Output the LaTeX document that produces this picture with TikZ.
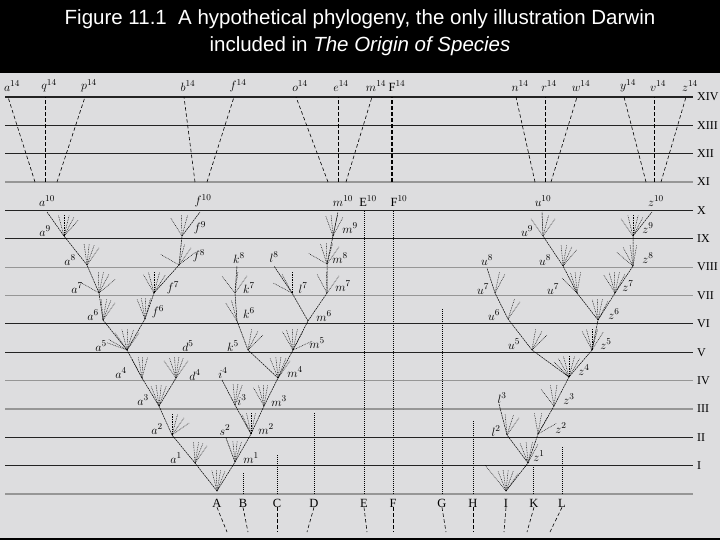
\documentclass[tikz,border=0pt]{standalone}
\usepackage{fontspec}
\setmainfont{Liberation Serif}
\newfontfamily\headfont{Liberation Sans}
\definecolor{paper}{RGB}{221,221,223}
\definecolor{dark}{RGB}{35,35,35}
\definecolor{pale}{RGB}{150,150,150}
\newcommand{\twigs}[2]{\foreach \ang in {#2} \draw[twig] (#1) -- ++(\ang:21pt);}

\begin{document}
\begin{tikzpicture}[x=1pt,y=-1pt,
  branch/.style={line width=0.5pt,dash pattern=on 2pt off 0.7pt},
  twig/.style={line width=0.45pt,dash pattern=on 0.8pt off 0.9pt},
  relic/.style={line width=0.6pt,dash pattern=on 3.5pt off 2.5pt},
  stem/.style={line width=0.6pt,dash pattern=on 1pt off 1pt},
  lab/.style={inner sep=0pt,font=\fontsize{12.5}{12.5}\selectfont},
  era/.style={anchor=west,inner sep=0pt,font=\fontsize{12}{12}\selectfont},
  title/.style={text=white,inner sep=0pt,font=\headfont\fontsize{20.5}{24}\selectfont}]
\useasboundingbox (0,0) rectangle (720,540);
\fill[black] (0,0) rectangle (720,540);
\fill[paper] (0,73) rectangle (720,538);

% title
\node[title] (head1) at (360,19) {Figure 11.1\ \ A hypothetical phylogeny, the only illustration Darwin};
\node[title] (head2) at (360,46) {included in \textit{The Origin of Species}};

% generations
\foreach \k/\nm/\col/\w in {1/I/dark/0.8pt, 2/II/dark/0.8pt, 3/III/pale/1.6pt, 4/IV/pale/1.6pt,
  5/V/dark/0.8pt, 6/VI/dark/0.8pt, 7/VII/pale/1.1pt, 8/VIII/pale/1.1pt, 9/IX/dark/0.8pt,
  10/X/dark/0.8pt, 11/XI/pale/1.1pt, 12/XII/dark/0.8pt, 13/XIII/dark/0.8pt, 14/XIV/dark/2pt}{
  \pgfmathsetmacro{\yy}{494-28.36*\k}
  \draw[draw=\col,line width=\w] (5,\yy) -- (693,\yy);
  \node[era] (era\k) at (697,\yy) {\nm};
}
\draw[draw=pale,line width=1.3pt] (5,494) -- (693,494);

% top of the diagram, generations XI to XIV
\foreach \nm/\xb/\xt in {a/35/8, q/45/45, p/57/85, b/195/184, f/207/234, o/328/296, m/346/372,
  n/535/516, r/545/545, w/551/577, y/646/624, v/654/654, z/661/686}{
  \coordinate (foot\nm) at (\xb,182);
  \coordinate (head\nm) at (\xt,97);
  \draw[relic] (foot\nm) -- (head\nm);
  \node[lab] (tag\nm14) at (\xt+4,86) {$\nm^{14}$};
}
\coordinate (foote) at (338,182);
\coordinate (heade) at (338,97);
\draw[relic,line width=1pt] (foote) -- (heade);
\node[lab] (tage14) at (341,86) {$e^{14}$};
\coordinate (footF) at (392,182);
\coordinate (headF) at (392,97);
\draw[relic,line width=1.4pt] (footF) -- (headF);
\node[lab] (tagF14) at (397,86) {$\mathrm{F}^{14}$};

% tree of A
\coordinate (rA) at (217,491);
\coordinate (a1) at (195,463);
\coordinate (m1) at (235,462);
\coordinate (a2) at (172,435);
\coordinate (s2) at (226,438);
\coordinate (m2) at (251,434);
\coordinate (a3) at (159,406);
\coordinate (i3) at (235,405);
\coordinate (m3) at (264,406);
\coordinate (a4) at (142,378);
\coordinate (d4) at (176,378);
\coordinate (i4) at (222,380);
\coordinate (m4) at (278,378);
\coordinate (a5) at (127,350);
\coordinate (k5) at (248,350);
\coordinate (m5) at (293,350);
\coordinate (a6) at (103,320);
\coordinate (f6) at (145,319);
\coordinate (k6) at (237,321);
\coordinate (m6) at (308,321);
\coordinate (a7) at (99,293);
\coordinate (f7) at (154,293);
\coordinate (k7) at (235,293);
\coordinate (l7) at (292,293);
\coordinate (m7) at (327,293);
\coordinate (a8) at (87,265);
\coordinate (f8) at (179,265);
\coordinate (k8) at (237,266);
\coordinate (l8) at (274,266);
\coordinate (m8) at (327,264);
\coordinate (a9) at (64,236);
\coordinate (f9) at (182,236);
\coordinate (m9) at (333,236);
\coordinate (a10) at (47,212);
\coordinate (f10) at (200,212);
\coordinate (m10) at (338,212);
\draw[branch] (a10) -- (a9) -- (a8) -- (a7) -- (a6) -- (a5) -- (a4) -- (a3) -- (a2) -- (a1) -- (rA)
  -- (m1) -- (m2) -- (m3) -- (m4) -- (m5) -- (m6) -- (m7) -- (m8) -- (m9) -- (m10)
  (a5) -- (f6) -- (f7) -- (f8) -- (f9) -- (f10)
  (a3) -- (d4)
  (m1) -- (s2)
  (m2) -- (i3) -- (i4)
  (m4) -- (k5) -- (k6) -- (k7) -- (k8)
  (m6) -- (l7) -- (l8);
\twigs{rA}{68,80,92,104}
\twigs{a1}{55,68,80,94}
\twigs{m1}{72,84,96}
\twigs{a2}{35,55,75,90}
\twigs{m2}{78,90,102,115}
\twigs{a3}{70,84,98,112}
\twigs{i3}{70,82,95}
\twigs{m3}{80,92,105,120}
\twigs{a4}{75,88,100,118}
\twigs{d4}{55,70,82,94,108,125}
\twigs{m4}{55,68,82,96,112}
\twigs{a5}{55,72,88,104,125,150,160}
\twigs{k5}{45,62,80}
\twigs{m5}{25,62,78,92,108,120}
\twigs{a6}{55,68,80,95}
\twigs{f6}{75,88,100,112}
\twigs{k6}{105,122}
\twigs{a7}{40,62,78,92,150}
\twigs{f7}{58,75,90,105,120}
\twigs{k7}{55,82,128}
\twigs{l7}{90,118,152}
\twigs{m7}{55,92,118}
\twigs{a8}{55,70,84,98}
\twigs{f8}{38,55,75,150}
\twigs{m8}{55,75,92,108,150}
\twigs{a9}{48,62,76,90,105}
\twigs{f9}{75,92,122}
\twigs{m9}{62,78,95,110}

% tree of I
\coordinate (rI) at (506,491);
\coordinate (z1) at (528,463);
\coordinate (l2) at (507,435);
\coordinate (z2) at (538,434);
\coordinate (l3) at (499,404);
\coordinate (z3) at (554,406);
\coordinate (z4) at (569,377);
\coordinate (u5) at (532,350);
\coordinate (z5) at (592,350);
\coordinate (u6) at (508,319);
\coordinate (z6) at (598,320);
\coordinate (u7w) at (495,293);
\coordinate (u7) at (577,293);
\coordinate (z7) at (615,293);
\coordinate (u8w) at (487,268);
\coordinate (u8) at (563,266);
\coordinate (z8) at (633,266);
\coordinate (u9) at (543,236);
\coordinate (z9) at (633,236);
\coordinate (u10) at (542,212);
\coordinate (z10) at (652,212);
\draw[branch] (rI) -- (z1) -- (z2) -- (z3) -- (z4) -- (z5) -- (z6) -- (z7) -- (z8) -- (z9) -- (z10)
  (z1) -- (l2) -- (l3)
  (z4) -- (u5) -- (u6) -- (u7w) -- (u8w)
  (z6) -- (u7) -- (u8) -- (u9) -- (u10);
\twigs{rI}{55,70,84,98,112}
\draw[twig] (rI) -- ++(129:33pt);
\twigs{z1}{62,78,95,112}
\twigs{l2}{55,72,95}
\twigs{z2}{30,60,80,100}
\twigs{z3}{82,100,128}
\twigs{z4}{60,75,90,105,120,135}
\twigs{u5}{45,62,80}
\twigs{z5}{58,75,90,105,118}
\twigs{u6}{55,72}
\twigs{z6}{62,78,92,106}
\twigs{u7w}{62,78}
\twigs{u7}{80,95,108,135}
\twigs{z7}{62,78,92,106,122}
\twigs{u8}{50,65,80,95}
\twigs{z8}{80,98,118,140}
\twigs{u9}{55,75,125}
\twigs{z9}{62,76,90,104,125}

% tags of the forms
\foreach \ch/\gen/\x/\y in {a/1/176/458, m/1/251/458, a/2/157/429, s/2/225/430, m/2/266/429,
  a/3/143/400, i/3/242/400, m/3/279/401, a/4/121/373, d/4/195/375, i/4/223/373, m/4/295/372,
  a/5/101/346, d/5/188/346, k/5/233/346, m/5/317/343,
  a/6/93/315, f/6/158/312, k/6/249/313, m/6/324/316,
  a/7/77/288, f/7/173/288, k/7/249/288, l/7/303/288, m/7/343/286,
  a/8/70/260, f/8/199/256, k/8/239/258, l/8/274/257, m/8/340/258,
  a/9/45/231, f/9/200/228, m/9/350/228,
  a/10/47/201, f/10/203/201, m/10/343/201,
  l/2/496/431, z/1/539/456, z/2/561/428, l/3/502/398, z/3/569/399, z/4/584/370,
  u/5/514/344, z/5/606/344, u/6/494/315, z/6/614/314, u/7/553/289, z/7/628/286,
  u/8/545/260, z/8/648/258, u/9/527/231, z/9/648/228, u/10/543/201, z/10/656/201}{
  \node[lab] (tag\ch\gen) at (\x,\y) {$\ch^{\gen}$};
}
\node[lab] (tagu7w) at (483,289) {$u^{7}$};
\node[lab] (tagu8w) at (487,260) {$u^{8}$};
\node[lab] (tagE10) at (368,201) {$\mathrm{E}^{10}$};
\node[lab] (tagF10) at (399,201) {$\mathrm{F}^{10}$};

% unchanged lines
\foreach \nm/\x/\top in {B/243/472, C/277/454, D/314/412, E/364/211, F/393/211,
  G/442/309, H/473/421, K/533/467, L/562/447}{
  \coordinate (base\nm) at (\x,494);
  \coordinate (top\nm) at (\x,\top);
  \draw[stem] (base\nm) -- (top\nm);
}

% original species
\foreach \nm/\x/\xe in {A/217/227, B/243/248, C/277/277, D/314/307, E/364/367, F/393/393,
  G/442/446, H/473/473, I/506/504, K/534/527, L/562/550}{
  \node[lab] (sp\nm) at (\x,503) {\nm};
  \coordinate (end\nm) at (\xe,532);
  \draw[relic] (sp\nm.south) -- (end\nm);
}
\end{tikzpicture}
\end{document}
